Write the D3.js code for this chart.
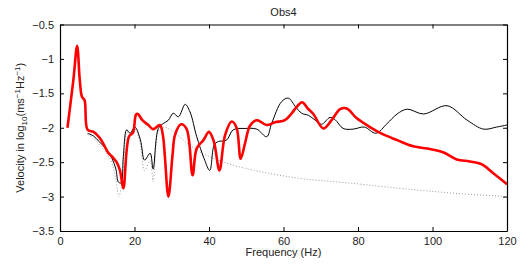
<!DOCTYPE html>
<html>
<head>
<meta charset="utf-8">
<script src="https://cdn.jsdelivr.net/npm/d3@7"></script>
<style>
  body { margin: 0; background: #fff; }
  text { font-family: "Liberation Sans", Arial, sans-serif; font-size: 11px; fill: #222; }
</style>
</head>
<body>
<script>
// [frequency Hz, log10 velocity]
var modelRed = [[2,-2.0],[3.6,-1.3],[4.6,-0.81],[5.3,-1.3],[5.9,-1.55],[6.6,-1.6],[7.4,-2.03],[9,-2.06],[10.7,-2.15],[12.1,-2.28],[12.9,-2.36],[14,-2.42],[15.2,-2.5],[16.1,-2.62],[17,-2.88],[18.5,-2.13],[19.6,-2.07],[20.4,-1.81],[20.9,-1.8],[22.1,-1.89],[23.7,-1.96],[25,-2.02],[26.8,-1.96],[27.6,-2.1],[29.1,-3.0],[30.2,-2.4],[30.9,-2.1],[32.5,-1.95],[34,-2.02],[35.6,-2.69],[36.7,-2.3],[38.5,-2.18],[40,-2.06],[41.3,-2.2],[42.8,-2.62],[44.3,-2.11],[46.1,-1.91],[47.4,-2.0],[48.5,-2.45],[49.7,-2.22],[51,-1.97],[52.8,-1.89],[55.5,-1.96],[57.7,-1.92],[60.4,-1.89],[62.2,-1.79],[63.5,-1.7],[65,-1.63],[66.5,-1.72],[68,-1.8],[70.7,-2.01],[72.9,-1.89],[75.2,-1.73],[77,-1.72],[79.6,-1.86],[83.2,-1.99],[86.5,-2.09],[90.5,-2.18],[94.8,-2.27],[99.3,-2.31],[103,-2.36],[106.5,-2.46],[110,-2.49],[113.2,-2.53],[116.3,-2.66],[120,-2.82]];

var obsBlack = [[7.4,-2.08],[9,-2.12],[10.5,-2.2],[12.5,-2.32],[14,-2.45],[15,-2.6],[15.7,-2.79],[16.4,-2.8],[17,-2.42],[17.9,-2.03],[18.8,-2.08],[20.1,-1.99],[21.6,-2.18],[22.7,-2.47],[24.2,-2.37],[25,-2.6],[26.4,-2.01],[27.7,-1.94],[29.1,-1.89],[30.4,-1.79],[31.8,-1.84],[33.6,-1.66],[34.9,-1.77],[36.7,-2.13],[38.7,-2.45],[40.2,-2.62],[41.4,-2.25],[42.5,-2.2],[44.7,-2.18],[46.5,-2.03],[49.7,-2.01],[52.8,-2.02],[55.5,-2.13],[56.8,-1.94],[59.5,-1.62],[61.3,-1.57],[63.3,-1.7],[64.9,-1.79],[66.7,-1.82],[68.5,-1.89],[70.2,-1.95],[72.5,-1.85],[73.8,-1.88],[76,-2.01],[78.7,-2.02],[81.7,-1.99],[84.8,-2.08],[87.8,-1.94],[90.5,-1.8],[93.2,-1.73],[97.6,-1.8],[103.9,-1.68],[109.3,-1.89],[113.7,-2.02],[117.2,-1.99],[120,-1.96]];

var noiseDotted = [[7.4,-2.1],[9,-2.15],[10.5,-2.24],[12.5,-2.37],[14,-2.52],[15,-2.75],[15.8,-3.0],[16.5,-2.85],[17.2,-2.42],[18,-2.06],[18.8,-2.1],[20.1,-2.02],[21.6,-2.25],[22.7,-2.62],[24.2,-2.48],[25,-2.78],[26.4,-2.05],[27.5,-1.99],[30,-2.04],[34,-2.22],[38.5,-2.38],[43,-2.48],[47.5,-2.56],[56,-2.66],[65,-2.74],[77,-2.8],[95,-2.9],[108,-2.96],[120,-3.0]];

var xTicks = [0, 20, 40, 60, 80, 100, 120];
var yTicks = [-3.5, -3, -2.5, -2, -1.5, -1, -0.5];

var W = 527, H = 264;
var m = { left: 60, right: 20, top: 24.5, bottom: 33 };

var svg = d3.select("body").append("svg")
    .attr("width", W)
    .attr("height", H);

var x = d3.scaleLinear().domain([0, 120]).range([m.left, W - m.right]);
var y = d3.scaleLinear().domain([-3.5, -0.5]).range([H - m.bottom, m.top]);

var fmt = function(d) { return String(d).replace("-", "\u2212"); };

// --- Lines ---
var line = d3.line()
    .x(d => x(d[0]))
    .y(d => y(d[1]))
    .curve(d3.curveCatmullRom.alpha(0.5));

svg.append("path")
    .datum(noiseDotted)
    .attr("d", line)
    .attr("fill", "none")
    .attr("stroke", "#9a9a9a")
    .attr("stroke-width", 1)
    .attr("stroke-dasharray", "1,2");

svg.append("path")
    .datum(obsBlack)
    .attr("d", line)
    .attr("fill", "none")
    .attr("stroke", "#000")
    .attr("stroke-width", 1);

svg.append("path")
    .datum(modelRed)
    .attr("d", line)
    .attr("fill", "none")
    .attr("stroke", "#ff0000")
    .attr("stroke-width", 2.6)
    .attr("stroke-linejoin", "round");

// --- Axes (box with inward ticks) ---
var tk = 4;
svg.append("g")
    .attr("transform", "translate(0," + (H - m.bottom) + ")")
    .call(d3.axisBottom(x).tickValues(xTicks).tickSizeInner(-tk).tickSizeOuter(0).tickPadding(6).tickFormat(fmt));
svg.append("g")
    .attr("transform", "translate(0," + m.top + ")")
    .call(d3.axisTop(x).tickValues(xTicks).tickSizeInner(-tk).tickSizeOuter(0).tickFormat(""));
svg.append("g")
    .attr("transform", "translate(" + m.left + ",0)")
    .call(d3.axisLeft(y).tickValues(yTicks).tickSizeInner(-tk).tickSizeOuter(0).tickPadding(6).tickFormat(fmt));
svg.append("g")
    .attr("transform", "translate(" + (W - m.right) + ",0)")
    .call(d3.axisRight(y).tickValues(yTicks).tickSizeInner(-tk).tickSizeOuter(0).tickFormat(""));

svg.selectAll(".domain").attr("stroke", "#000").attr("stroke-width", 1.2);
svg.selectAll(".tick line").attr("stroke", "#000");
svg.selectAll(".tick text").style("font-size", "11px").attr("fill", "#222")
    .style("font-family", "'Liberation Sans', Arial, sans-serif");

// --- Labels ---
svg.append("text")
    .attr("x", (m.left + W - m.right) / 2)
    .attr("y", 16)
    .attr("text-anchor", "middle")
    .text("Obs4");

svg.append("text")
    .attr("x", (m.left + W - m.right) / 2)
    .attr("y", 256)
    .attr("text-anchor", "middle")
    .text("Frequency (Hz)");

var yl = svg.append("text")
    .attr("transform", "translate(24," + ((m.top + H - m.bottom) / 2) + ") rotate(-90)")
    .attr("text-anchor", "middle");
yl.append("tspan").text("Velocity in log");
yl.append("tspan").attr("dy", 3).style("font-size", "8px").text("10");
yl.append("tspan").attr("dy", -3).text("(ms");
yl.append("tspan").attr("dy", -4).style("font-size", "8px").text("\u22121");
yl.append("tspan").attr("dy", 4).text("Hz");
yl.append("tspan").attr("dy", -4).style("font-size", "8px").text("\u22121");
yl.append("tspan").attr("dy", 4).text(")");
</script>
</body>
</html>
